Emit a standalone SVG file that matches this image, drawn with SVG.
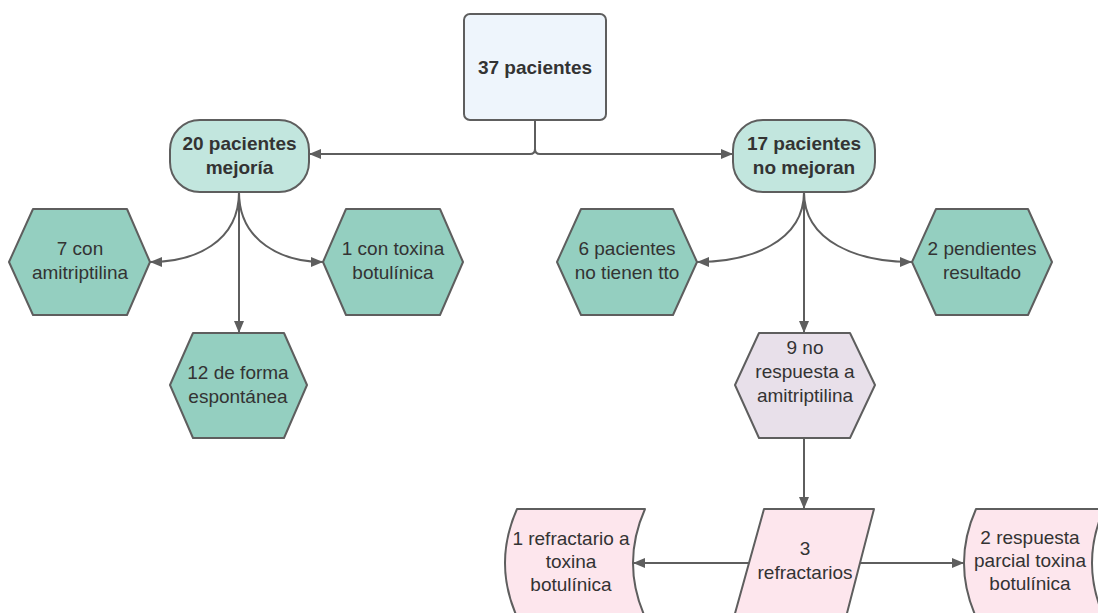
<svg xmlns="http://www.w3.org/2000/svg" width="1098" height="613" viewBox="0 0 1098 613">
<style>
.s{stroke:#5e5e5e;stroke-width:2;stroke-linejoin:round}
.root{fill:#eef5fc}
.pill{fill:#c2e6de}
.hex{fill:#94cfc0}
.lav{fill:#e8e0ea}
.pink{fill:#fde6ed}
text{font-family:"Liberation Sans",Arial,sans-serif;font-size:19px;fill:#333333;text-anchor:middle}
.b{font-weight:bold}
.c{fill:none;stroke:#5e5e5e;stroke-width:2}
</style>
<defs>
<marker id="a" viewBox="0 0 12 10" refX="12" refY="5" markerWidth="12" markerHeight="10" markerUnits="userSpaceOnUse" orient="auto">
<path d="M0,0 L12,5 L0,10 Z" fill="#5e5e5e"/>
</marker>
</defs>
<rect width="1098" height="613" fill="#ffffff"/>
<g id="connectors">
<path class="c" d="M535,120 V149 Q535,154 530,154 H309" marker-end="url(#a)"/>
<path class="c" d="M535,149 Q535,154 540,154 H733" marker-end="url(#a)"/>
<path class="c" d="M239,192 C239,242 195,262 150,262" marker-end="url(#a)"/>
<path class="c" d="M239,192 V333" marker-end="url(#a)"/>
<path class="c" d="M239,192 C239,242 283,262 323,262" marker-end="url(#a)"/>
<path class="c" d="M804,192 C804,242 750,262 697,262" marker-end="url(#a)"/>
<path class="c" d="M804,192 V333" marker-end="url(#a)"/>
<path class="c" d="M804,192 C804,242 858,262 912,262" marker-end="url(#a)"/>
<path class="c" d="M804,438 V509" marker-end="url(#a)"/>
<path class="c" d="M749,563 H633" marker-end="url(#a)"/>
<path class="c" d="M859,563 H964" marker-end="url(#a)"/>
</g>
<g id="n37">
<rect class="s root" x="464" y="14" width="142" height="106" rx="6"/>
<text class="b" x="535" y="74">37 pacientes</text>
</g>
<g id="n20">
<rect class="s pill" x="170" y="120" width="139" height="72" rx="30"/>
<text class="b" x="239.5" y="150">20 pacientes</text>
<text class="b" x="239.5" y="174">mejoría</text>
</g>
<g id="n17">
<rect class="s pill" x="733" y="120" width="142" height="72" rx="30"/>
<text class="b" x="804" y="150">17 pacientes</text>
<text class="b" x="804" y="174">no mejoran</text>
</g>
<g id="n7">
<polygon class="s hex" points="9,262 33,209 127,209 150,262 127,315 33,315"/>
<text x="80" y="255">7 con</text>
<text x="80" y="279">amitriptilina</text>
</g>
<g id="n1tox">
<polygon class="s hex" points="323,262 346,209 440,209 463,262 440,315 346,315"/>
<text x="393" y="255">1 con toxina</text>
<text x="393" y="279">botulínica</text>
</g>
<g id="n12">
<polygon class="s hex" points="170,385 193,333 284,333 307,385 284,438 193,438"/>
<text x="238" y="379">12 de forma</text>
<text x="238" y="403">espontánea</text>
</g>
<g id="n6">
<polygon class="s hex" points="557,262 581,209 673,209 697,262 673,315 581,315"/>
<text x="627" y="255">6 pacientes</text>
<text x="627" y="279">no tienen tto</text>
</g>
<g id="n2p">
<polygon class="s hex" points="912,262 936,209 1028,209 1052,262 1028,315 936,315"/>
<text x="982" y="255">2 pendientes</text>
<text x="982" y="279">resultado</text>
</g>
<g id="n9">
<polygon class="s lav" points="735,385 759,333 850,333 875,385 850,438 759,438"/>
<text x="805" y="354">9 no</text>
<text x="805" y="378">respuesta a</text>
<text x="805" y="402">amitriptilina</text>
</g>
<g id="n3">
<polygon class="s pink" points="764,509 874,509 846,617 734,617"/>
<text x="805" y="555">3</text>
<text x="805" y="579">refractarios</text>
</g>
<g id="n1ref">
<path class="s pink" d="M517,509 H645 Q621,563 645,617 H517 Q493,563 517,509 Z"/>
<text x="571" y="545">1 refractario a</text>
<text x="571" y="568">toxina</text>
<text x="571" y="591">botulínica</text>
</g>
<g id="n2r">
<path class="s pink" d="M976,509 H1104 Q1080,563 1104,617 H976 Q952,563 976,509 Z"/>
<text x="1030" y="544">2 respuesta</text>
<text x="1030" y="567">parcial toxina</text>
<text x="1030" y="590">botulínica</text>
</g>
</svg>
